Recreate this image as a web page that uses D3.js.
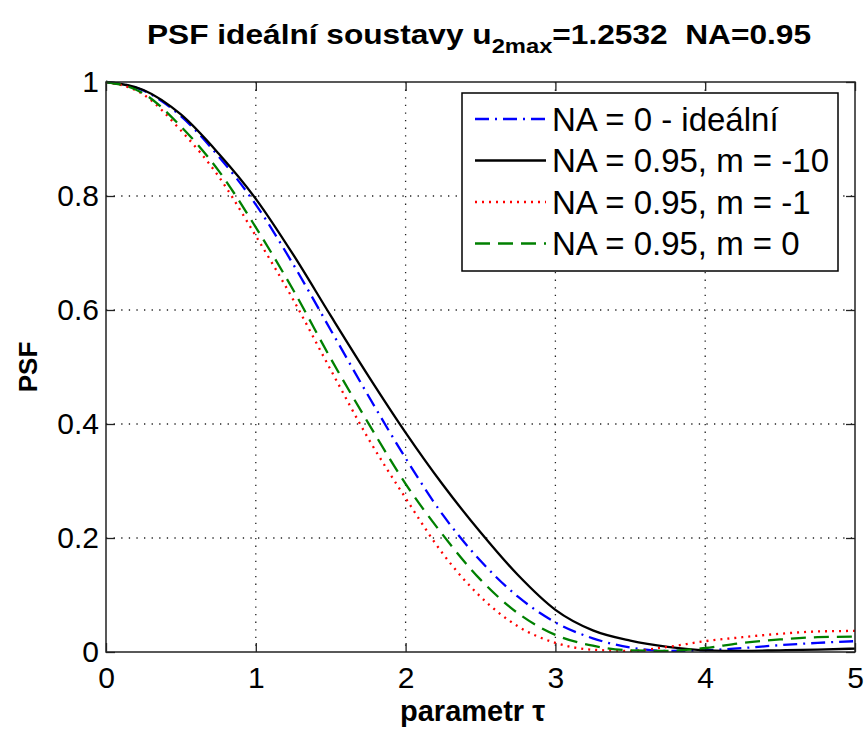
<!DOCTYPE html>
<meta charset="utf-8">
<script src="https://d3js.org/d3.v7.min.js"></script>
<style>
  body { margin: 0; background: #fff; }
  text { font-family: "Liberation Sans", Arial, sans-serif; fill: #000; }
</style>
<div id="chart"></div>
<script>
    // values
    const tau = [0, 0.25, 0.5, 0.75, 1, 1.25, 1.5, 1.75, 2, 2.25, 2.5, 2.75, 3, 3.25, 3.5, 3.75, 4, 4.25, 4.5, 4.75, 5];
    const psfIdeal = [1, 0.985, 0.94, 0.87, 0.785, 0.68, 0.565, 0.45, 0.34, 0.24, 0.16, 0.097, 0.052, 0.024, 0.008, 0.002, 0.003, 0.007, 0.012, 0.016, 0.019];
    const psfM10 = [1, 0.986, 0.943, 0.875, 0.795, 0.697, 0.59, 0.485, 0.385, 0.293, 0.21, 0.135, 0.074, 0.038, 0.02, 0.009, 0.003, 0.002, 0.003, 0.004, 0.006];
    const psfM1 = [1, 0.978, 0.915, 0.835, 0.73, 0.618, 0.495, 0.375, 0.27, 0.172, 0.097, 0.045, 0.016, 0.004, 0.002, 0.009, 0.019, 0.026, 0.032, 0.036, 0.037];
    const psfM0 = [1, 0.98, 0.922, 0.845, 0.745, 0.635, 0.515, 0.402, 0.295, 0.205, 0.127, 0.068, 0.03, 0.011, 0.003, 0.002, 0.007, 0.016, 0.022, 0.026, 0.027];

    const seriesNames = ["NA = 0 - ideální", "NA = 0.95, m = -10", "NA = 0.95, m = -1", "NA = 0.95, m = 0"];
    const xTicks = [0, 1, 2, 3, 4, 5];
    const yTicks = [0, 0.2, 0.4, 0.6, 0.8, 1];

    const series = [
        { name: seriesNames[0], values: psfIdeal, color: "#0000ff", dash: "14,6,2,6" },
        { name: seriesNames[1], values: psfM10, color: "#000000", dash: null },
        { name: seriesNames[2], values: psfM1, color: "#ff0000", dash: "2,5" },
        { name: seriesNames[3], values: psfM0, color: "#008000", dash: "15,8" },
    ];

    const W = 866, H = 729;
    const margin = { top: 82, right: 11, bottom: 77, left: 106 },
        width = W - margin.left - margin.right,
        height = H - margin.top - margin.bottom;

    const root = d3.select("#chart").append("svg")
        .attr("width", W)
        .attr("height", H);

    const svg = root.append("g")
        .attr("transform", `translate(${margin.left}, ${margin.top})`);

    const x = d3.scaleLinear().domain([0, 5]).range([0, width]);
    const y = d3.scaleLinear().domain([0, 1]).range([height, 0]);

    // dotted grid
    svg.selectAll(".gx")
        .data(xTicks.slice(1, -1))
        .join("line")
        .attr("x1", d => x(d)).attr("x2", d => x(d))
        .attr("y1", 0).attr("y2", height)
        .attr("stroke", "#222").attr("stroke-width", 1.3)
        .attr("stroke-dasharray", "1.3,6.3");
    svg.selectAll(".gy")
        .data(yTicks.slice(1, -1))
        .join("line")
        .attr("y1", d => y(d)).attr("y2", d => y(d))
        .attr("x1", 0).attr("x2", width)
        .attr("stroke", "#222").attr("stroke-width", 1.3)
        .attr("stroke-dasharray", "1.3,6.3");

    // axes, ticks pointing inward like MATLAB
    const fs = 30;
    svg.append("g").attr("transform", `translate(0, ${height})`)
        .call(d3.axisBottom(x).tickValues(xTicks).tickSizeInner(-9).tickSizeOuter(0).tickPadding(15).tickFormat(d => String(d)));
    svg.append("g")
        .call(d3.axisLeft(y).tickValues(yTicks).tickSizeInner(-9).tickSizeOuter(0).tickPadding(7).tickFormat(d => String(d)));
    svg.append("g")
        .call(d3.axisTop(x).tickValues(xTicks).tickSizeInner(-9).tickSizeOuter(0).tickFormat(""));
    svg.append("g").attr("transform", `translate(${width}, 0)`)
        .call(d3.axisRight(y).tickValues(yTicks).tickSizeInner(-9).tickSizeOuter(0).tickFormat(""));

    svg.selectAll(".domain").remove();
    svg.selectAll(".tick line").attr("stroke", "#222").attr("stroke-width", 1.3);
    svg.selectAll(".tick text")
        .attr("font-family", "Liberation Sans, Arial, sans-serif")
        .attr("font-size", fs)
        .attr("fill", "#000");

    // lines
    const line = d3.line()
        .x((d, i) => x(tau[i]))
        .y(d => y(d))
        .curve(d3.curveMonotoneX);

    svg.selectAll(".psf")
        .data(series)
        .join("path")
        .attr("class", "psf")
        .attr("fill", "none")
        .attr("stroke", d => d.color)
        .attr("stroke-width", 2.3)
        .attr("stroke-dasharray", d => d.dash)
        .attr("d", d => line(d.values));

    // axes box
    svg.append("rect")
        .attr("width", width).attr("height", height)
        .attr("fill", "none").attr("stroke", "#222").attr("stroke-width", 1.5);

    // legend
    const lg = root.append("g").attr("transform", "translate(462, 93)");
    lg.append("rect")
        .attr("width", 376).attr("height", 178)
        .attr("fill", "#fff").attr("stroke", "#000").attr("stroke-width", 1.5);
    const rows = lg.selectAll(".row")
        .data(series)
        .join("g")
        .attr("transform", (d, i) => `translate(0, ${26 + i * 41.5})`);
    rows.append("line")
        .attr("x1", 13).attr("x2", 84)
        .attr("stroke", d => d.color)
        .attr("stroke-width", 2.3)
        .attr("stroke-dasharray", d => d.dash);
    rows.append("text")
        .attr("x", 90)
        .attr("dy", "0.35em")
        .attr("font-size", 33)
        .text(d => d.name);

    // title
    const title = root.append("text")
        .attr("x", 147).attr("y", 44)
        .attr("font-family", "Liberation Sans Narrow, Liberation Sans, Arial, sans-serif")
        .attr("font-weight", "bold")
        .attr("font-size", 28)
        .attr("textLength", 664)
        .attr("lengthAdjust", "spacingAndGlyphs")
        .style("white-space", "pre");
    title.append("tspan").text("PSF ideální soustavy u");
    title.append("tspan").attr("dy", 9).attr("font-size", 21).text("2max");
    title.append("tspan").attr("dy", -9).text("=1.2532  NA=0.95");

    // axis labels
    root.append("text")
        .attr("x", 400).attr("y", 721)
        .attr("font-weight", "bold")
        .attr("font-size", 29)
        .text("parametr τ");

    root.append("text")
        .attr("transform", `translate(37, ${margin.top + height / 2}) rotate(-90)`)
        .attr("text-anchor", "middle")
        .attr("font-weight", "bold")
        .attr("font-size", 26)
        .text("PSF");
</script>
